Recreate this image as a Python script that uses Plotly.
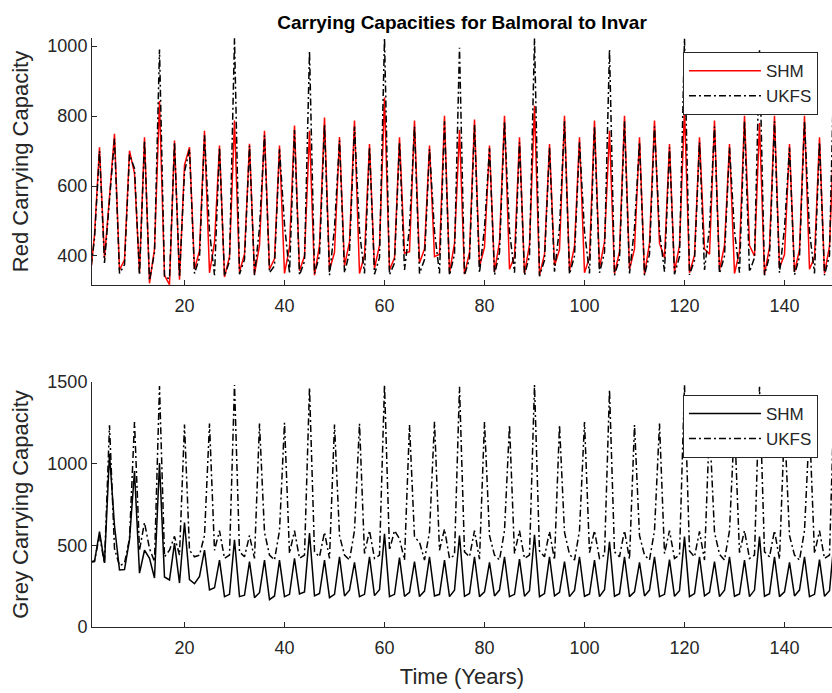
import plotly.graph_objects as go
from plotly.subplots import make_subplots

years = list(range(1, 151))

# red carrying capacity, one value per year
red_shm = [
    320, 460, 711, 394, 569, 749, 360, 389, 701, 636, 352, 739, 322, 420, 843,
    345, 318, 730, 332, 660, 711, 362, 415, 758, 352, 438, 716, 340, 398, 787,
    355, 405, 721, 348, 430, 758, 362, 392, 716, 350, 425, 773, 358, 400, 758,
    345, 430, 796, 360, 410, 740, 372, 440, 787, 350, 402, 720, 365, 430, 853,
    360, 395, 739, 408, 412, 787, 380, 420, 716, 398, 405, 801, 352, 436, 760,
    348, 410, 790, 370, 425, 716, 355, 440, 801, 362, 398, 739, 350, 432, 829,
    345, 405, 720, 372, 418, 801, 358, 428, 739, 352, 396, 787, 366, 440, 758,
    350, 412, 801, 362, 420, 739, 348, 436, 787, 436, 395, 720, 356, 430, 821,
    352, 402, 739, 420, 405, 787, 360, 430, 720, 350, 412, 801, 430, 400, 780,
    348, 425, 801, 366, 404, 720, 355, 418, 801, 362, 396, 739, 350, 428, 790,
]
red_ukfs = [
    330, 450, 700, 380, 560, 735, 350, 375, 690, 650, 345, 730, 330, 410, 990,
    340, 335, 725, 340, 640, 705, 350, 395, 745, 470, 345, 710, 342, 385, 1022,
    348, 390, 715, 345, 480, 745, 352, 372, 705, 490, 350, 760, 345, 385, 985,
    350, 400, 775, 345, 480, 730, 352, 410, 770, 470, 350, 712, 348, 395, 1022,
    346, 380, 725, 360, 480, 770, 350, 390, 705, 470, 350, 785, 345, 405, 995,
    345, 392, 775, 352, 480, 708, 346, 410, 785, 470, 352, 725, 345, 400, 1022,
    342, 388, 710, 355, 480, 785, 348, 400, 725, 470, 350, 770, 352, 410, 990,
    345, 392, 785, 350, 480, 725, 345, 405, 770, 470, 355, 710, 348, 398, 1022,
    346, 388, 725, 360, 480, 770, 350, 400, 710, 470, 352, 785, 355, 395, 988,
    345, 400, 785, 352, 480, 710, 346, 398, 785, 470, 350, 725, 345, 402, 1022,
]

# grey carrying capacity, one value per year
grey_shm = [
    395, 400, 584, 392, 1060, 620, 349, 352, 533, 955, 330, 470, 420, 300, 1004,
    306, 288, 514, 269, 640, 290, 265, 310, 471, 227, 240, 410, 186, 200, 533,
    186, 195, 400, 180, 210, 410, 168, 190, 410, 186, 200, 420, 203, 215, 575,
    190, 205, 410, 180, 200, 430, 190, 225, 395, 186, 200, 430, 192, 228, 570,
    186, 200, 425, 188, 212, 400, 186, 220, 430, 190, 200, 410, 186, 225, 560,
    188, 205, 430, 186, 215, 395, 190, 226, 430, 186, 200, 415, 188, 222, 565,
    186, 205, 430, 190, 212, 400, 186, 224, 430, 188, 202, 410, 186, 228, 522,
    188, 204, 430, 186, 215, 395, 190, 226, 430, 186, 200, 412, 188, 222, 553,
    186, 205, 430, 190, 212, 400, 186, 225, 430, 188, 202, 410, 186, 226, 553,
    188, 204, 430, 186, 215, 395, 190, 226, 430, 186, 200, 412, 188, 222, 555,
]
grey_ukfs = [
    398, 405, 560, 390, 1235, 480, 375, 390, 540, 1255, 470, 640, 480, 400, 1475,
    430, 470, 555, 440, 1240, 470, 430, 440, 560, 1245, 470, 590, 420, 440, 1482,
    460, 430, 560, 420, 1245, 580, 440, 410, 590, 1250, 450, 590, 420, 440, 1465,
    460, 430, 580, 420, 1240, 560, 440, 410, 590, 1245, 450, 590, 420, 440, 1482,
    470, 590, 540, 410, 1237, 550, 520, 410, 580, 1257, 470, 600, 420, 440, 1471,
    460, 430, 590, 415, 1255, 560, 440, 410, 590, 1237, 450, 590, 420, 440, 1482,
    465, 430, 585, 410, 1237, 580, 445, 410, 590, 1255, 455, 590, 420, 440, 1452,
    460, 430, 590, 415, 1237, 560, 440, 410, 590, 1245, 450, 590, 420, 440, 1482,
    465, 430, 585, 410, 1240, 580, 445, 410, 590, 1250, 455, 590, 420, 440, 1470,
    460, 430, 590, 415, 1245, 560, 440, 410, 590, 1240, 450, 590, 420, 440, 1482,
]

x_ticks = [20, 40, 60, 80, 100, 120, 140]
red_ticks = [400, 600, 800, 1000]
grey_ticks = [0, 500, 1000, 1500]

axis_col = "#262626"
font_fam = "Liberation Sans, Arial, sans-serif"
dashdot = "7px,3px,2px,3px"

fig = make_subplots(rows=2, cols=1)

fig.add_trace(go.Scatter(x=years, y=red_shm, mode="lines", name="SHM",
                         line=dict(color="#ff0000", width=1.5), legend="legend"), row=1, col=1)
fig.add_trace(go.Scatter(x=years, y=red_ukfs, mode="lines", name="UKFS",
                         line=dict(color="black", width=1.5, dash=dashdot), legend="legend"), row=1, col=1)
fig.add_trace(go.Scatter(x=years, y=grey_shm, mode="lines", name="SHM",
                         line=dict(color="black", width=1.5), legend="legend2"), row=2, col=1)
fig.add_trace(go.Scatter(x=years, y=grey_ukfs, mode="lines", name="UKFS",
                         line=dict(color="black", width=1.5, dash=dashdot), legend="legend2"), row=2, col=1)

ax_common = dict(showgrid=False, zeroline=False, showline=True, linecolor=axis_col, linewidth=1,
                 ticks="inside", ticklen=5, tickcolor=axis_col, mirror=False,
                 tickfont=dict(size=18, color=axis_col, family=font_fam))
lab_font = dict(size=22, color=axis_col, family=font_fam)

fig.update_xaxes(range=[1.5, 149.5], tickvals=x_ticks, ticklabelstandoff=4, **ax_common)
fig.update_xaxes(title=dict(text="Time (Years)", font=lab_font, standoff=12), row=2, col=1)
fig.update_yaxes(range=[317, 1023], tickvals=red_ticks, domain=[0.5806, 1.0],
                 title=dict(text="Red Carrying Capacity", font=lab_font, standoff=12),
                 row=1, col=1, **ax_common)
fig.update_yaxes(range=[0, 1500], tickvals=grey_ticks, domain=[0.0, 0.416],
                 title=dict(text="Grey Carrying Capacity", font=lab_font, standoff=12),
                 row=2, col=1, **ax_common)

leg = dict(xanchor="left", yanchor="top", bgcolor="white", bordercolor=axis_col, borderwidth=1,
           font=dict(size=17, color=axis_col, family=font_fam), tracegroupgap=0, itemwidth=72)
fig.update_layout(
    width=832, height=693,
    margin=dict(l=92, r=0, t=38, b=66),
    paper_bgcolor="white", plot_bgcolor="white",
    title=dict(text="<b>Carrying Capacities for Balmoral to Invar</b>", x=0.5, xref="paper",
               y=1 - 22 / 693, yref="container", xanchor="center", yanchor="middle",
               font=dict(size=19, color="black", family=font_fam)),
    legend=dict(x=0.7986, y=0.976, **leg),
    legend2=dict(x=0.7986, y=0.394, **leg),
    showlegend=True,
)

fig.write_html("out.html", config={"displayModeBar": False},
               post_script="document.body.style.margin='0';")
